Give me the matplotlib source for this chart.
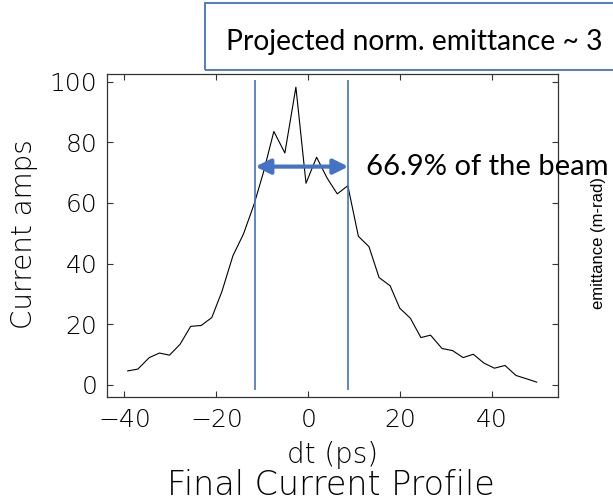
import matplotlib
matplotlib.use("Agg")
import matplotlib.pyplot as plt
from matplotlib.patches import Rectangle

# current profile samples
dt = [-39.3, -37.1, -34.6, -32.4, -30.2, -27.9, -25.6, -23.3, -21.0, -18.8,
      -16.4, -14.1, -11.8, -9.8, -7.5, -5.1, -2.7, -0.5, 1.8, 4.1,
      6.3, 8.6, 10.9, 13.2, 15.4, 17.8, 19.9, 22.2, 24.5, 26.6,
      29.1, 31.4, 33.7, 35.9, 38.2, 40.5, 42.8, 45.2, 47.5, 49.7]
current = [4.6, 5.2, 9.0, 10.5, 9.8, 13.4, 19.3, 19.6, 22.2, 30.8,
           42.6, 49.8, 59.6, 69.9, 83.6, 76.5, 98.2, 66.5, 75.1, 68.2,
           63.0, 65.7, 49.0, 45.6, 35.4, 32.7, 25.3, 22.0, 15.6, 16.4,
           12.0, 11.3, 9.0, 10.1, 7.2, 5.5, 6.4, 3.1, 2.0, 0.9]

cut_lo, cut_hi = -11.5, 8.7
arrow_y = 72
xticks = [-40, -20, 0, 20, 40]
yticks = [0, 20, 40, 60, 80, 100]

blue = "#4472C4"
idl_font = dict(family=["DejaVu Sans"], fontweight="light")

fig = plt.figure(figsize=(6.13, 5.01), dpi=100)
ax = fig.add_axes([0.1746, 0.2076, 0.7354, 0.6444])

ax.plot(dt, current, color="black", linewidth=0.8)
ax.vlines([cut_lo, cut_hi], -1.7, 100.5, color=blue, linewidth=1.2)
ax.annotate("", xy=(cut_lo, arrow_y), xytext=(cut_hi, arrow_y),
            arrowprops=dict(arrowstyle="<|-|>", color=blue, lw=3,
                            mutation_scale=22, shrinkA=0, shrinkB=0))
ax.text(12.5, 69.3, "66.9% of the beam", fontsize=21,
        family=["Lato", "DejaVu Sans"], va="baseline", ha="left", clip_on=False)

ax.set_xlim(-43.8, 54.3)
ax.set_ylim(-4, 102.5)
ax.set_xticks(xticks)
ax.set_yticks(yticks)
ax.set_xticklabels([str(v).replace("-", "\u2212") for v in xticks], fontsize=18, **idl_font)
ax.set_yticklabels([str(v) for v in yticks], fontsize=18, **idl_font)
ax.tick_params(direction="in", length=4, width=0.8, top=True, right=True,
               color="#333333")
ax.tick_params(axis="y", pad=7)
ax.tick_params(axis="x", pad=8)
for sp in ax.spines.values():
    sp.set_color("#333333")
    sp.set_linewidth(0.9)

ax.set_xlabel("dt (ps)", fontsize=20, **idl_font)
ax.set_ylabel("Current amps", fontsize=20, **idl_font)
ax.xaxis.set_label_coords(0.5, -0.135)
ax.yaxis.set_label_coords(-0.153, 0.505)
fig.text(0.540, 0.012, "Final Current Profile", fontsize=24, ha="center",
         va="baseline", **idl_font)

# right-hand axis title from the neighbouring panel
fig.text(0.977, 0.515, "emittance (m-rad)", rotation=90, fontsize=12,
         family=["Liberation Sans"], ha="center", va="center")

# header box
fig.patches.append(Rectangle((204.7 / 613, 1 - 70 / 501), 0.75, 67 / 501,
                             transform=fig.transFigure, fill=False,
                             edgecolor=blue, linewidth=1.3))
fig.text(226 / 613, 1 - 50 / 501, "Projected norm. emittance ~ 3", fontsize=20.3,
         family=["Lato", "DejaVu Sans"], ha="left", va="baseline")

fig.savefig("out.png", dpi=100)
